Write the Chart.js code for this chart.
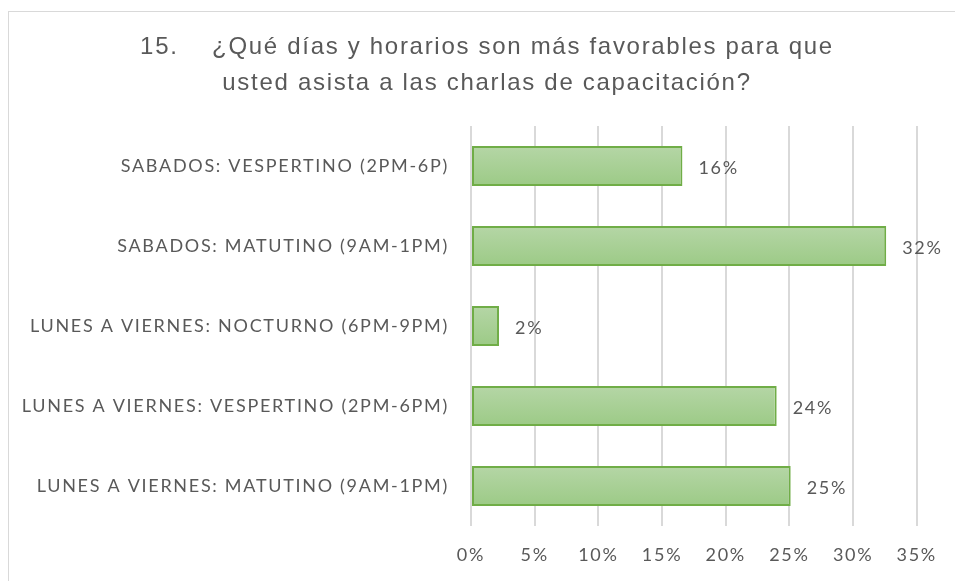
<!DOCTYPE html>
<html>
<head>
<meta charset="utf-8">
<script src="https://cdn.jsdelivr.net/npm/chart.js@4/dist/chart.umd.min.js"></script>
<style>
  html, body { margin: 0; padding: 0; background: #fff; overflow: hidden; }
  #frame { position: absolute; left: 8px; top: 11px; width: 1200px; height: 900px;
           border: 1.5px solid #d9d9d9; box-sizing: border-box; }
  #wrap { position: absolute; left: 0; top: 0; width: 955px; height: 581px; }
</style>
</head>
<body>
<div id="frame"></div>
<div id="wrap"><canvas id="chart"></canvas></div>
<script>
const categories = [
    "SABADOS: VESPERTINO (2PM-6P)",
    "SABADOS: MATUTINO (9AM-1PM)",
    "LUNES A VIERNES: NOCTURNO (6PM-9PM)",
    "LUNES A VIERNES: VESPERTINO (2PM-6PM)",
    "LUNES A VIERNES: MATUTINO (9AM-1PM)"
];
const values = [16.6, 32.6, 2.2, 24.0, 25.1];
const valueLabels = ["16%", "32%", "2%", "24%", "25%"];
const xTicks = [0, 5, 10, 15, 20, 25, 30, 35];

const titleLines = [
    "15.    ¿Qué días y horarios son más favorables para que",
    "usted asista a las charlas de capacitación?"
];

const gray = "#595959";
const labelFont = "Lato, 'Liberation Sans', sans-serif";

// one vertical gradient per bar
function barFill(context) {
    const chart = context.chart;
    const y = chart.scales.y;
    if (!y || !chart.chartArea) return "#a9d18e";
    const center = y.getPixelForValue(context.dataIndex);
    const half = (y.height / categories.length) / 4;
    const g = chart.ctx.createLinearGradient(0, center - half, 0, center + half);
    g.addColorStop(0, "#b5d6a6");
    g.addColorStop(1, "#9cca86");
    return g;
}

// text in the original is slightly letter-spaced
const spacingPlugin = {
    id: "spacing",
    beforeLayout(chart) { chart.ctx.letterSpacing = "1.7px"; },
    beforeDraw(chart) { chart.ctx.letterSpacing = "1.7px"; }
};

// title is centred a bit right of the canvas middle, like the original
const titlePlugin = {
    id: "bigTitle",
    afterDraw(chart) {
        const ctx = chart.ctx;
        ctx.save();
        ctx.font = "24px 'Liberation Sans', Arial, sans-serif";
        ctx.fillStyle = gray;
        ctx.textAlign = "center";
        ctx.textBaseline = "middle";
        titleLines.forEach((line, i) => ctx.fillText(line, 487, 47 + i * 36));
        ctx.restore();
    }
};

const valueLabelPlugin = {
    id: "valueLabels",
    afterDatasetsDraw(chart) {
        const ctx = chart.ctx;
        const meta = chart.getDatasetMeta(0);
        ctx.save();
        ctx.font = "18px " + labelFont;
        ctx.fillStyle = gray;
        ctx.textAlign = "left";
        ctx.textBaseline = "middle";
        meta.data.forEach((bar, i) => {
            ctx.fillText(valueLabels[i], bar.x + 16, bar.y + 2);
        });
        ctx.restore();
    }
};

new Chart(document.getElementById("chart"), {
    type: "bar",
    data: {
        labels: categories,
        datasets: [{
            data: values,
            backgroundColor: barFill,
            borderColor: "#70ad47",
            borderWidth: 2,
            borderSkipped: false,
            categoryPercentage: 1,
            barPercentage: 0.5
        }]
    },
    options: {
        indexAxis: "y",
        responsive: true,
        maintainAspectRatio: false,
        animation: false,
        layout: { padding: { left: 0, right: 38, top: 126, bottom: 0 } },
        plugins: {
            legend: { display: false },
            tooltip: { enabled: false },
            title: { display: false }
        },
        scales: {
            x: {
                min: 0,
                max: 35,
                afterFit: s => { s.height = 55; },
                afterBuildTicks: s => { s.ticks = xTicks.map(v => ({ value: v })); },
                grid: { color: "#d9d9d9", lineWidth: 2, drawTicks: false },
                border: { display: false },
                ticks: {
                    color: gray,
                    padding: 18,
                    font: { family: labelFont, size: 18 },
                    callback: v => v + "%"
                }
            },
            y: {
                afterFit: s => { s.width = 471; },
                grid: { display: false, drawTicks: false },
                border: { display: false },
                ticks: {
                    color: gray,
                    padding: 22,
                    font: { family: labelFont, size: 18 }
                }
            }
        }
    },
    plugins: [spacingPlugin, titlePlugin, valueLabelPlugin]
});
</script>
</body>
</html>
